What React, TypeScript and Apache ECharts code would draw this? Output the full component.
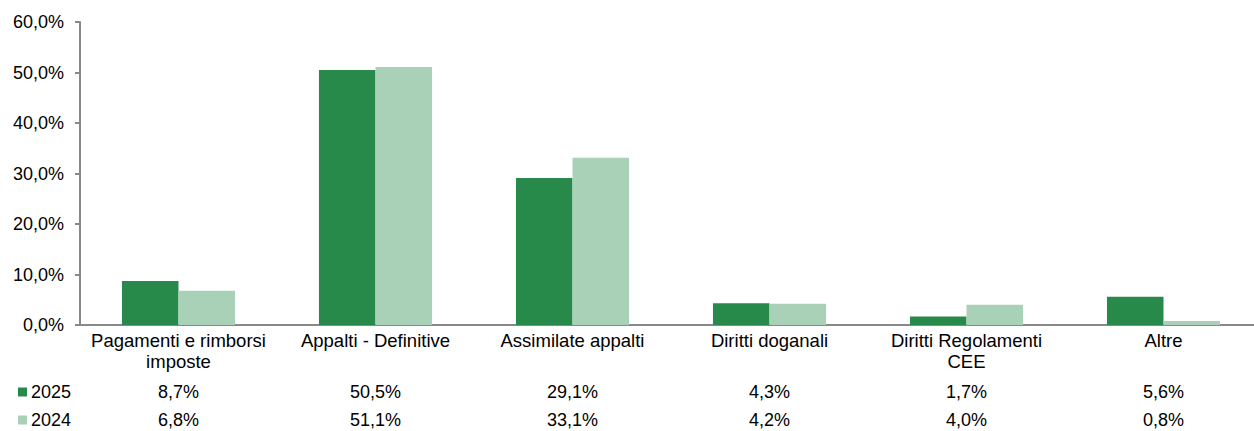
import React, { useEffect, useRef } from "react";
import * as echarts from "echarts";

const categories = [
  "Pagamenti e rimborsi\nimposte",
  "Appalti - Definitive",
  "Assimilate appalti",
  "Diritti doganali",
  "Diritti Regolamenti\nCEE",
  "Altre",
];
const values2025 = [8.7, 50.5, 29.1, 4.3, 1.7, 5.6];
const values2024 = [6.8, 51.1, 33.1, 4.2, 4.0, 0.8];
const yTicks = [0, 10, 20, 30, 40, 50, 60];

const DARK = "#27894a";
const LIGHT = "#a8d1b8";
const FONT = "Liberation Sans, Arial, sans-serif";
const fmt = (v: number) => v.toFixed(1).replace(".", ",") + "%";

export default function App() {
  const ref = useRef<HTMLDivElement>(null);
  useEffect(() => {
    if (!ref.current) return;
    const chart = echarts.init(ref.current, undefined, { renderer: "svg" });
    const tableAxis = (vals: number[], offset: number) => ({
      type: "category",
      data: categories,
      position: "bottom",
      offset,
      axisLine: { show: false },
      axisTick: { show: false },
      axisLabel: {
        margin: 0,
        fontSize: 18,
        fontFamily: FONT,
        color: "#000",
        formatter: (_: string, i: number) => fmt(vals[i]),
      },
      splitLine: { show: false },
    });
    const legendText = { fontSize: 18, fontFamily: FONT, color: "#000", padding: [0, 0, 0, -1] };
    chart.setOption({
      animation: false,
      textStyle: { fontFamily: FONT },
      grid: { left: 80, right: 0, top: 22, bottom: 106, containLabel: false },
      legend: [
        {
          data: ["2025"],
          left: 13,
          top: 378,
          icon: "rect",
          itemWidth: 9,
          itemHeight: 9,
          itemGap: 5,
          textStyle: legendText,
        },
        {
          data: ["2024"],
          left: 13,
          top: 406,
          icon: "rect",
          itemWidth: 9,
          itemHeight: 9,
          itemGap: 5,
          textStyle: legendText,
        },
      ],
      xAxis: [
        {
          type: "category",
          data: categories,
          axisLine: { lineStyle: { color: "#898989", width: 2 } },
          axisTick: { show: false },
          axisLabel: {
            margin: 5,
            fontSize: 18.5,
            lineHeight: 21,
            fontFamily: FONT,
            color: "#000",
            interval: 0,
          },
        },
        tableAxis(values2025, 58),
        tableAxis(values2024, 86),
      ],
      yAxis: {
        type: "value",
        min: yTicks[0],
        max: yTicks[yTicks.length - 1],
        interval: 10,
        axisLine: { show: true, lineStyle: { color: "#898989", width: 2 } },
        axisTick: { show: true, length: 5, lineStyle: { color: "#898989", width: 2 } },
        splitLine: { show: false },
        axisLabel: {
          margin: 16,
          fontSize: 18,
          fontFamily: FONT,
          color: "#000",
          formatter: (v: number) => fmt(v),
        },
      },
      series: [
        {
          name: "2025",
          type: "bar",
          data: values2025,
          itemStyle: { color: DARK },
          barGap: "0%",
          barCategoryGap: "42.6%",
        },
        {
          name: "2024",
          type: "bar",
          data: values2024,
          itemStyle: { color: LIGHT },
          barGap: "0%",
          barCategoryGap: "42.6%",
        },
      ],
    });
    return () => chart.dispose();
  }, []);
  return (
    <div
      style={{ position: "absolute", left: 0, top: 0, width: 1254, height: 431, overflow: "hidden", background: "#fff" }}
    >
      <div ref={ref} style={{ position: "absolute", left: 0, top: 0, width: 1262, height: 431 }} />
    </div>
  );
}
